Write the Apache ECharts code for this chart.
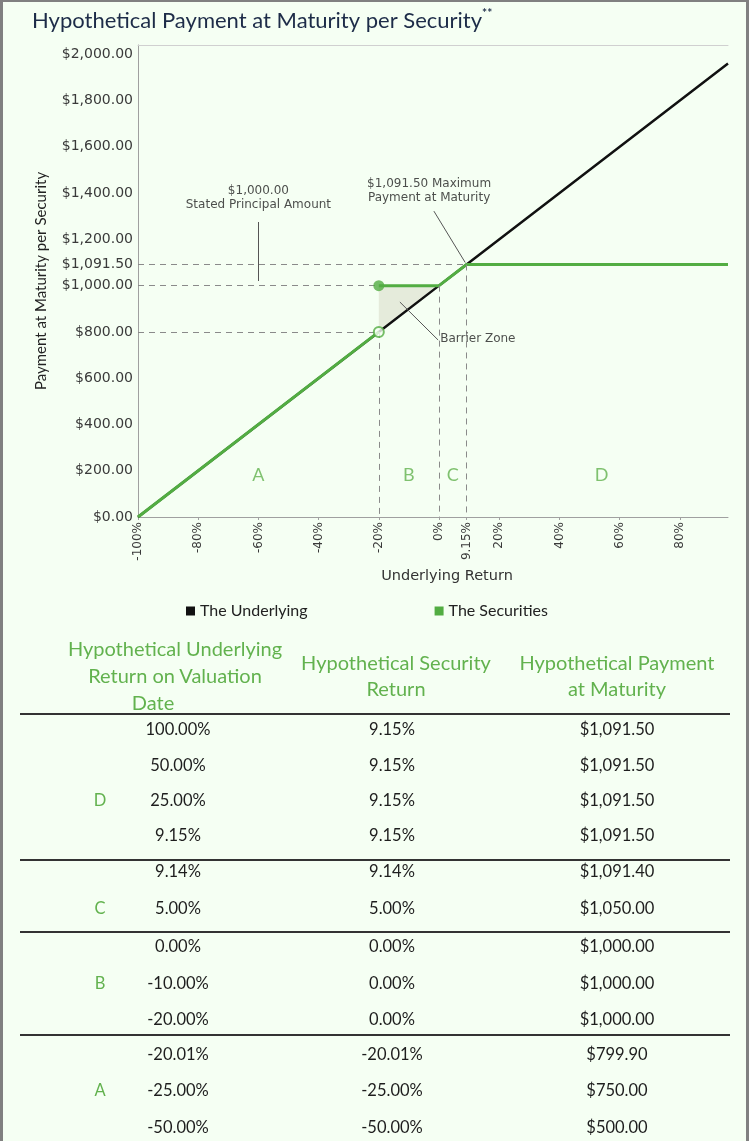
<!DOCTYPE html>
<html>
<head>
<meta charset="utf-8">
<script src="https://cdn.jsdelivr.net/npm/echarts@6/dist/echarts.min.js"></script>
<style>
  html, body { margin:0; padding:0; background:#f5fff3; }
  #frame { position:absolute; left:0; top:0; width:749px; height:1141px; box-sizing:border-box;
           border-left:3px solid #808080; border-right:3px solid #808080; border-top:2px solid #808080;
           pointer-events:none; z-index:5; }
  #chart { position:absolute; left:0; top:0; width:749px; height:640px; }
  #table { position:absolute; left:0; top:0; width:749px; height:1141px; font-family:Lato, 'Open Sans', sans-serif; }
  .cell { position:absolute; width:300px; text-align:center; white-space:nowrap; }
  .rule { position:absolute; height:2px; background:#333; }
</style>
</head>
<body>
<div id="chart"></div>
<div id="table"></div>
<div id="frame"></div>
<script>
// ---------- chart data ----------
const xTickValues = [-100, -80, -60, -40, -20, 0, 9.15, 20, 40, 60, 80];
const yTickValues = [0, 200, 400, 600, 800, 1000, 1091.5, 1200, 1400, 1600, 1800, 2000];
const underlyingReturn  = [-100, -20, 0, 9.15, 96];
const underlyingPayment = [0, 800, 1000, 1091.5, 1960];
const securitiesReturnA  = [-100, -20];
const securitiesPaymentA = [0, 800];
const securitiesReturnBD  = [-20, 0, 9.15, 96];
const securitiesPaymentBD = [1000, 1000, 1091.5, 1091.5];
const filledDot = [-20, 1000];
const openDot = [-20, 800];
const barrierZone = [[-20, 800], [-20, 1000], [0, 1000]];
const guideLines = [
  [[-100, 1091.5], [9.15, 1091.5]],
  [[-100, 1000], [-20, 1000]],
  [[-100, 800], [-20, 800]],
  [[-20, 800], [-20, 0]],
  [[0, 1000], [0, 0]],
  [[9.15, 1091.5], [9.15, 0]]
];
const zoneLabels = ['A', 'B', 'C', 'D'];
const zoneLabelX = [-60, -10, 4.6, 54];
const zoneLabelY = 180;
const annotationTexts = ['$1,000.00\nStated Principal Amount', '$1,091.50 Maximum\nPayment at Maturity', 'Barrier Zone'];
const annotationX = [-60, -3.3, 0.4];
const annotationY = [1378, 1408, 769];
const annotationAlign = ['center', 'center', 'left'];
const leaderLines = [
  [[-60, 1275], [-60, 1020]],
  [[-1.7, 1322], [8.7, 1100]],
  [[-13, 929], [-0.3, 765]]
];

// ---------- table data ----------
const headerCol1 = ['Hypothetical Underlying', 'Return on Valuation', 'Date'];
const headerCol2 = ['Hypothetical Security', 'Return'];
const headerCol3 = ['Hypothetical Payment', 'at Maturity'];
const rowGroup = ['D','D','D','D','C','C','B','B','B','A','A','A'];
const rowUnderlying = ['100.00%','50.00%','25.00%','9.15%','9.14%','5.00%','0.00%','-10.00%','-20.00%','-20.01%','-25.00%','-50.00%'];
const rowSecurity = ['9.15%','9.15%','9.15%','9.15%','9.14%','5.00%','0.00%','0.00%','0.00%','-20.01%','-25.00%','-50.00%'];
const rowPayment = ['$1,091.50','$1,091.50','$1,091.50','$1,091.50','$1,091.40','$1,050.00','$1,000.00','$1,000.00','$1,000.00','$799.90','$750.00','$500.00'];
const groupLabels = ['D', 'C', 'B', 'A'];
const groupLabelRow = [2, 5, 7, 10];

// ---------- styles ----------
const GREEN = '#52ad42';
const TEXTGREEN = '#62b24e';
const AXISFONT = 'DejaVu Sans';

const fmtMoney = v => '$' + Number(v).toLocaleString('en-US', {minimumFractionDigits: 2, maximumFractionDigits: 2});
const fmtPct = v => v + '%';
const zip = (a, b) => a.map((v, i) => [v, b[i]]);

const chart = echarts.init(document.getElementById('chart'), null, {renderer: 'canvas'});
chart.setOption({
  animation: false,
  backgroundColor: 'transparent',
  title: {
    left: 27, top: 2,
    text: '{a|Hypothetical Payment at Maturity per Security}{s|**}',
    textStyle: {
      fontWeight: 'normal',
      rich: {
        a: {fontFamily: 'Lato', fontSize: 22, fontWeight: 'normal', color: '#1d2c48', lineHeight: 28},
        s: {fontFamily: 'Lato', fontSize: 12, fontWeight: 'bold', color: '#1d2c48', verticalAlign: 'top', lineHeight: 28, padding: [0,0,12,0]}
      }
    }
  },
  legend: {
    left: 181, top: 598,
    data: ['The Underlying', 'The Securities'],
    icon: 'rect', itemWidth: 9, itemHeight: 9, itemGap: 127,
    textStyle: {fontFamily: 'Lato', fontSize: 16, color: '#222'},
    selectedMode: false
  },
  grid: {left: 138, top: 45, right: 21, bottom: 123, containLabel: false, outerBoundsMode: 'none'},
  xAxis: [{
    type: 'value', min: -100, max: 96,
    name: 'Underlying Return', nameLocation: 'middle', nameGap: 51,
    nameTextStyle: {fontFamily: AXISFONT, fontSize: 14.5, color: '#333', padding: [0, 0, 0, 28]},
    axisLine: {show: true, onZero: false, lineStyle: {color: '#a0a0a0', width: 1}},
    axisTick: {show: true, customValues: xTickValues, length: 3, lineStyle: {color: '#a0a0a0'}},
    axisLabel: {customValues: xTickValues, rotate: 90, margin: 5, formatter: fmtPct,
                fontFamily: AXISFONT, fontSize: 12, color: '#3a3a3a'},
    splitLine: {show: false}
  }, {
    type: 'value', min: -100, max: 96, position: 'top',
    axisLine: {show: true, onZero: false, lineStyle: {color: '#d0d0d0'}},
    axisTick: {show: false}, axisLabel: {show: false}, splitLine: {show: false}
  }],
  yAxis: {
    type: 'value', min: 0, max: 2040,
    name: 'Payment at Maturity per Security', nameLocation: 'middle', nameGap: 89, nameRotate: 90,
    nameTextStyle: {fontFamily: 'Lato', fontSize: 15, color: '#222'},
    axisLine: {show: true, onZero: false, lineStyle: {color: '#a0a0a0', width: 1}},
    axisTick: {show: false},
    axisLabel: {customValues: yTickValues, margin: 5, formatter: fmtMoney,
                fontFamily: AXISFONT, fontSize: 14, color: '#3a3a3a'},
    splitLine: {show: false}
  },
  series: [
    {
      type: 'custom', name: 'barrier', silent: true, z: 1,
      data: [barrierZone[0]],
      renderItem: (params, api) => ({
        type: 'polygon',
        shape: {points: barrierZone.map(p => api.coord(p))},
        style: {fill: '#e5ebdb'}
      })
    },
    {
      type: 'line', name: 'guides', silent: true, z: 1, data: [],
      markLine: {
        silent: true, symbol: ['none', 'none'], label: {show: false},
        lineStyle: {color: '#8a8a8a', type: [6, 5], width: 1},
        data: guideLines.map(l => [{coord: l[0]}, {coord: l[1]}])
      }
    },
    {
      type: 'line', name: 'leaders', silent: true, z: 2, data: [],
      markLine: {
        silent: true, symbol: ['none', 'none'], label: {show: false},
        lineStyle: {color: '#555', type: 'solid', width: 1},
        data: leaderLines.map(l => [{coord: l[0]}, {coord: l[1]}])
      }
    },
    {
      type: 'line', name: 'The Underlying', z: 3, symbol: 'none',
      data: zip(underlyingReturn, underlyingPayment),
      lineStyle: {color: '#111', width: 2.5}, itemStyle: {color: '#111'}
    },
    {
      type: 'line', name: 'The Securities', z: 4, symbol: 'none',
      data: zip(securitiesReturnA, securitiesPaymentA),
      lineStyle: {color: GREEN, width: 3}, itemStyle: {color: GREEN}
    },
    {
      type: 'line', name: 'The Securities', z: 4, symbol: 'none',
      data: zip(securitiesReturnBD, securitiesPaymentBD),
      lineStyle: {color: GREEN, width: 3}, itemStyle: {color: GREEN}
    },
    {
      type: 'scatter', name: 'dots', z: 5, silent: true,
      data: [
        {value: filledDot, symbolSize: 11, itemStyle: {color: GREEN}},
        {value: openDot, symbolSize: 10, itemStyle: {color: '#f5fff3', borderColor: GREEN, borderWidth: 2}}
      ]
    },
    {
      type: 'scatter', name: 'zones', z: 5, silent: true, symbolSize: 0,
      data: zoneLabels.map((t, i) => ({value: [zoneLabelX[i], zoneLabelY], name: t})),
      label: {show: true, position: 'inside', formatter: p => p.name,
              fontFamily: 'Lato', fontSize: 18, color: TEXTGREEN}
    },
    {
      type: 'scatter', name: 'notes', z: 5, silent: true, symbolSize: 0,
      data: annotationTexts.map((t, i) => ({
        value: [annotationX[i], annotationY[i]], name: t,
        label: {align: annotationAlign[i]}
      })),
      label: {show: true, position: 'inside', formatter: p => p.name,
              fontFamily: AXISFONT, fontSize: 12, lineHeight: 14, color: '#222'}
    }
  ]
});

// ---------- table ----------
const tbl = document.getElementById('table');
function place(text, cx, cy, size, color, lh) {
  const d = document.createElement('div');
  d.className = 'cell';
  d.textContent = text;
  d.style.left = (cx - 150) + 'px';
  d.style.top = (cy - lh / 2) + 'px';
  d.style.lineHeight = lh + 'px';
  d.style.fontSize = size + 'px';
  d.style.color = color;
  tbl.appendChild(d);
}
function rule(y) {
  const d = document.createElement('div');
  d.className = 'rule';
  d.style.left = '20px'; d.style.width = '710px'; d.style.top = (y - 1) + 'px';
  tbl.appendChild(d);
}
const colX = [100, 178, 392, 617];
const header1X = [175, 175, 153];
headerCol1.forEach((t, i) => place(t, header1X[i], 648 + i * 27, 20, TEXTGREEN, 24));
headerCol2.forEach((t, i) => place(t, 396, 662 + i * 26, 20, TEXTGREEN, 24));
headerCol3.forEach((t, i) => place(t, 617, 662 + i * 26, 20, TEXTGREEN, 24));
const rowY = [729, 765, 800, 835, 871, 908, 946, 983, 1019, 1054, 1090, 1127];
rowUnderlying.forEach((t, i) => {
  place(t, colX[1], rowY[i], 16.5, '#1e1e1e', 20);
  place(rowSecurity[i], colX[2], rowY[i], 16.5, '#1e1e1e', 20);
  place(rowPayment[i], colX[3], rowY[i], 16.5, '#1e1e1e', 20);
});
groupLabels.forEach((g, i) => place(g, colX[0], rowY[groupLabelRow[i]], 16.5, TEXTGREEN, 20));
[714, 860, 932, 1035].forEach(rule);
</script>
</body>
</html>
